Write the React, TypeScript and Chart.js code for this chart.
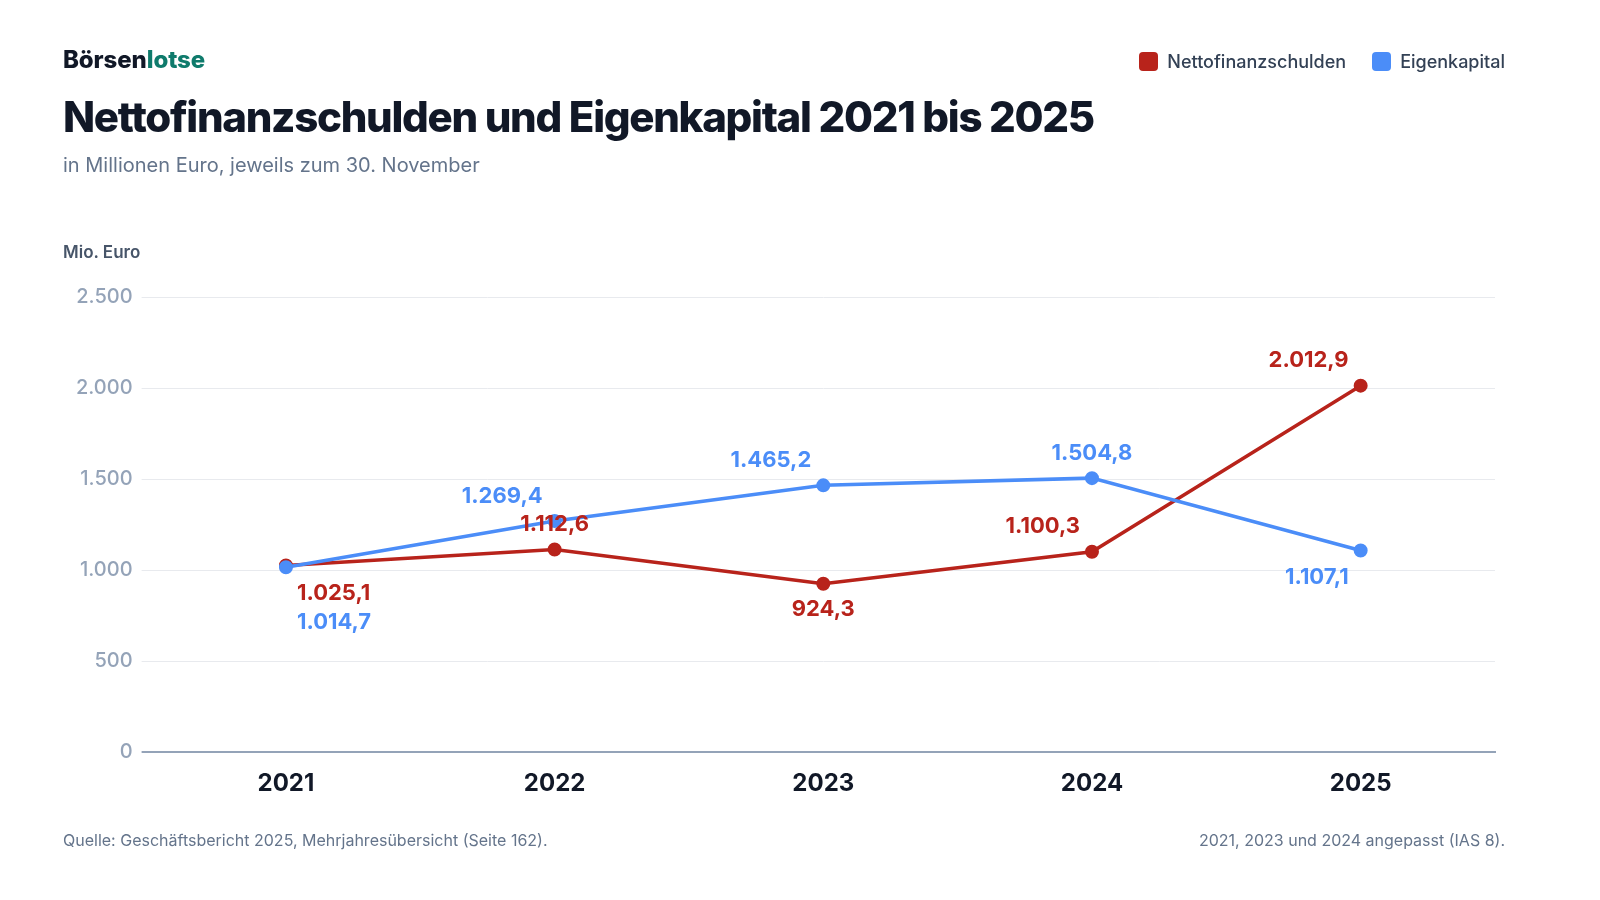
import { useRef, useEffect } from 'react';
import { Chart, registerables } from 'chart.js';

Chart.register(...registerables);

// Chart values (Mio. Euro)
const years = ['2021', '2022', '2023', '2024', '2025'];
const nettofinanzschulden = [1025.1, 1112.6, 924.3, 1100.3, 2012.9];
const eigenkapital = [1014.7, 1269.4, 1465.2, 1504.8, 1107.1];
const yTicks = [0, 500, 1000, 1500, 2000, 2500];

// where each value label sits relative to its point
const redLabelPlacement = ['belowRight', 'above', 'below', 'aboveLeft', 'aboveLeft'];
const blueLabelPlacement = ['belowRight2', 'aboveLeft', 'aboveLeft', 'above', 'belowLeft'];

const RED = '#b8231b';
const BLUE = '#4b8df8';
const FONT = 'Inter, "Noto Sans", sans-serif';

const placements: Record<string, { dx: number; dy: number; align: CanvasTextAlign }> = {
  above: { dx: 0, dy: -25, align: 'center' },
  below: { dx: 0, dy: 26, align: 'center' },
  aboveLeft: { dx: -12, dy: -25, align: 'right' },
  belowLeft: { dx: -12, dy: 27, align: 'right' },
  belowRight: { dx: 11, dy: 28, align: 'left' },
  belowRight2: { dx: 11, dy: 55, align: 'left' },
};

const formatDe = (v: number, digits: number) =>
  v.toLocaleString('de-DE', { minimumFractionDigits: digits, maximumFractionDigits: digits });

// draws the value labels on top of the lines
const valueLabels = {
  id: 'valueLabels',
  afterDatasetsDraw(chart: any) {
    const ctx = chart.ctx;
    ctx.save();
    ctx.font = `700 22px ${FONT}`;
    ctx.textBaseline = 'middle';
    chart.data.datasets.forEach((ds: any, i: number) => {
      const meta = chart.getDatasetMeta(i);
      meta.data.forEach((pt: any, j: number) => {
        const p = placements[ds.labelPlacement[j]];
        ctx.fillStyle = ds.borderColor;
        ctx.textAlign = p.align;
        ctx.fillText(formatDe(ds.data[j], 1), pt.x + p.dx, pt.y + p.dy);
      });
    });
    ctx.restore();
  },
};

function LineChart() {
  const canvasRef = useRef<HTMLCanvasElement | null>(null);
  const chartInstance = useRef<Chart | null>(null);

  useEffect(() => {
    if (chartInstance.current) {
      chartInstance.current.destroy();
    }
    if (!canvasRef.current) return;

    chartInstance.current = new Chart(canvasRef.current, {
      type: 'line',
      data: {
        labels: years,
        datasets: [
          {
            label: 'Nettofinanzschulden',
            data: nettofinanzschulden,
            borderColor: RED,
            backgroundColor: RED,
            pointBackgroundColor: RED,
            labelPlacement: redLabelPlacement,
            order: 2,
          } as any,
          {
            label: 'Eigenkapital',
            data: eigenkapital,
            borderColor: BLUE,
            backgroundColor: BLUE,
            pointBackgroundColor: BLUE,
            labelPlacement: blueLabelPlacement,
            order: 1,
          } as any,
        ],
      },
      options: {
        responsive: false,
        animation: false,
        layout: { padding: { top: 297, right: 105, bottom: 0, left: 0 } },
        elements: {
          line: { borderWidth: 3.5, tension: 0 },
          point: { radius: 5.5, borderWidth: 3, borderColor: '#ffffff', hoverRadius: 5.5 },
        },
        plugins: {
          legend: { display: false },
          tooltip: { enabled: false },
        },
        scales: {
          x: {
            offset: true,
            grid: { display: false, drawTicks: false },
            border: { display: true, color: '#94a3b8', width: 2 },
            ticks: {
              color: '#111827',
              font: { family: FONT, size: 24, weight: 700 },
              padding: 17,
            },
            afterFit: (scale: any) => {
              scale.height = 148;
            },
          },
          y: {
            min: 0,
            max: 2500,
            afterBuildTicks: (scale: any) => {
              scale.ticks = yTicks.map((v) => ({ value: v }));
            },
            grid: {
              color: (c: any) => (c.tick && c.tick.value === 0 ? '#94a3b8' : '#e8eaee'),
              lineWidth: (c: any) => (c.tick && c.tick.value === 0 ? 2 : 1),
              tickLength: 10,
            },
            border: { display: false },
            ticks: {
              color: '#94a3b8',
              font: { family: FONT, size: 20, weight: 500 },
              padding: 9,
              callback: (v: any) => formatDe(Number(v), 0),
            },
            afterFit: (scale: any) => {
              scale.width = 151.6;
            },
          },
        },
      },
      plugins: [valueLabels],
    });

    return () => {
      if (chartInstance.current) {
        chartInstance.current.destroy();
        chartInstance.current = null;
      }
    };
  }, []);

  return (
    <canvas
      ref={canvasRef}
      width={1600}
      height={900}
      style={{ position: 'absolute', left: 0, top: 0, width: 1600, height: 900 }}
    />
  );
}

const text = (style: React.CSSProperties): React.CSSProperties => ({
  position: 'absolute',
  margin: 0,
  lineHeight: 1,
  whiteSpace: 'nowrap',
  fontFamily: FONT,
  ...style,
});

function LegendItem({ color, label }: { color: string; label: string }) {
  return (
    <div style={{ display: 'flex', alignItems: 'center', marginLeft: 26 }}>
      <span
        style={{ width: 19, height: 19, borderRadius: 4, background: color, marginRight: 9, display: 'inline-block' }}
      />
      <span style={{ fontSize: 18, fontWeight: 500, color: '#334155', fontFamily: FONT }}>{label}</span>
    </div>
  );
}

export default function App() {
  useEffect(() => {
    document.body.style.margin = '0';
  }, []);

  return (
    <div style={{ position: 'relative', width: 1600, height: 900, background: '#ffffff', overflow: 'hidden' }}>
      <LineChart />
      <div style={text({ left: 63, top: 48, fontSize: 24, fontWeight: 800, letterSpacing: -0.1, color: '#111827' })}>
        Börsen<span style={{ color: '#0f7b6c' }}>lotse</span>
      </div>
      <div style={text({ left: 63, top: 96, fontSize: 42, fontWeight: 800, letterSpacing: -1.3, color: '#111827' })}>
        Nettofinanzschulden und Eigenkapital 2021 bis 2025
      </div>
      <div style={text({ left: 63, top: 155, fontSize: 20, fontWeight: 400, color: '#64748b' })}>
        in Millionen Euro, jeweils zum 30. November
      </div>
      <div style={text({ left: 63, top: 244, fontSize: 17, fontWeight: 600, color: '#475569' })}>Mio. Euro</div>
      <div style={{ position: 'absolute', right: 95, top: 51, display: 'flex' }}>
        <LegendItem color={RED} label="Nettofinanzschulden" />
        <LegendItem color={BLUE} label="Eigenkapital" />
      </div>
      <div style={text({ left: 63, top: 832, fontSize: 16, color: '#64748b' })}>
        Quelle: Geschäftsbericht 2025, Mehrjahresübersicht (Seite 162).
      </div>
      <div style={text({ right: 95, top: 832, fontSize: 16, color: '#64748b' })}>
        2021, 2023 und 2024 angepasst (IAS 8).
      </div>
    </div>
  );
}
